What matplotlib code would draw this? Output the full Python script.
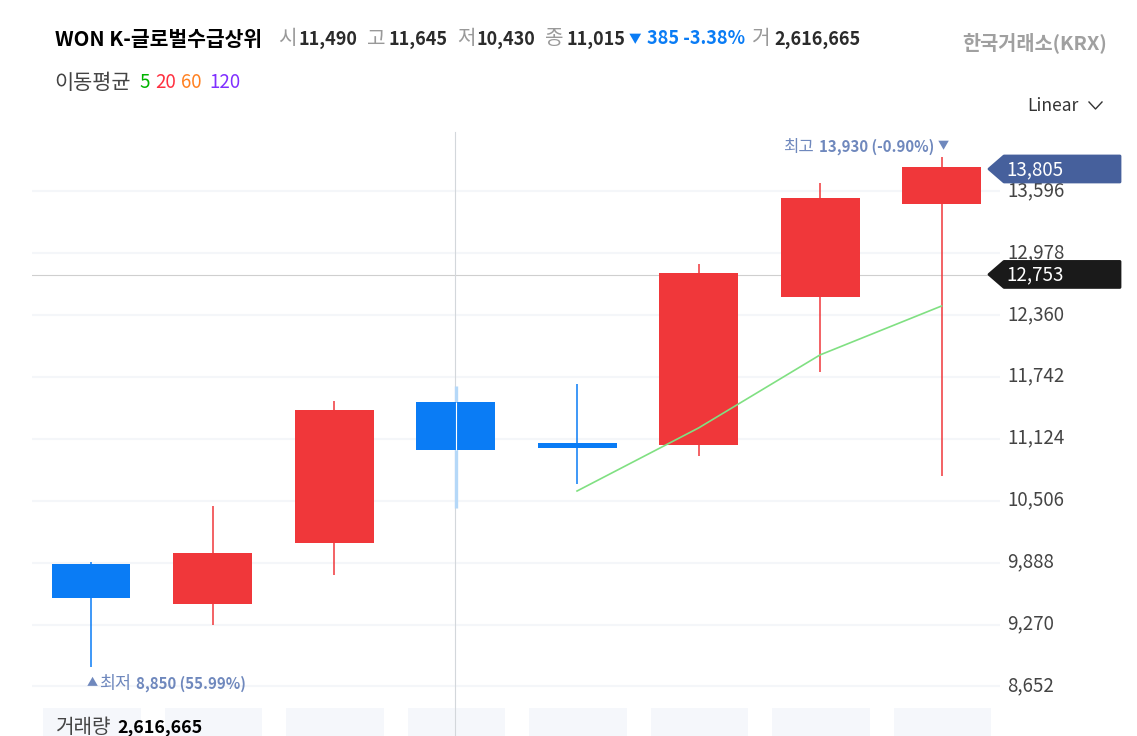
import matplotlib
matplotlib.use('Agg')
import matplotlib.pyplot as plt
from matplotlib.patches import Polygon
from matplotlib.lines import Line2D
from matplotlib.transforms import ScaledTranslation

plt.rcParams['font.family'] = ['Noto Sans CJK KR', 'DejaVu Sans']

# candles, oldest first
opens = [9874, 9475, 10084, 11490, 11081, 11061, 12538, 13465]
closes = [9535, 9984, 11410, 11015, 11031, 12777, 13525, 13835]
highs = [9894, 10453, 11500, 11645, 11670, 12867, 13675, 13930]
lows = [8850, 9266, 9764, 10430, 10672, 10951, 11789, 10752]
ma5_x = [4, 5, 6, 7]
ma5 = [10602, 11231, 11960, 12448]
volumes = [1, 1, 1, 1, 1, 1, 1, 1]
yticks = [8652, 9270, 9888, 10506, 11124, 11742, 12360, 12978, 13596]
hover = 3
last_price = 13805
cross_price = 12753

W, H = 1137, 736
RED = '#f0373a'
BLUE = '#0a7cf5'
NOTE = '#6f88bd'

fig = plt.figure(figsize=(W / 100, H / 100), dpi=100)


def box(x0, y0, x1, y1):
    return [x0 / W, 1 - y1 / H, (x1 - x0) / W, (y1 - y0) / H]


def fx(x):
    return x / W


def fy(y):
    return 1 - y / H


def txt(x, y, s, size=11, color='#333333', weight='normal', ha='left', **kw):
    fig.text(fx(x), fy(y), s, fontsize=size, color=color, weight=weight,
             ha=ha, va='center_baseline', **kw)


ax = fig.add_axes(box(32, 132, 1000, 700), zorder=1)
ax.set_xlim(-0.4856, 7.481)
ax.set_ylim(8517, 14184)
for s in ax.spines.values():
    s.set_visible(False)
ax.set_xticks([])
ax.yaxis.tick_right()
ax.set_yticks(yticks)
ax.set_yticklabels([f'{v:,}' for v in yticks], fontsize=13.5, color='#444444', va='center_baseline')
ax.tick_params(axis='y', length=0, pad=5)
up = ScaledTranslation(0, 3 / 100, fig.dpi_scale_trans)
for lab in ax.get_yticklabels():
    lab.set_transform(lab.get_transform() + up)
ax.grid(axis='y', color='#f4f6f9', lw=1.5)
ax.set_axisbelow(True)
ax.patch.set_alpha(0)

# volume panel, clipped by the bottom of the page
vax = fig.add_axes(box(33, 708, 1001, 736), zorder=0)
vax.set_xlim(ax.get_xlim())
vax.set_ylim(0, 1)
vax.axis('off')
vax.bar(range(len(volumes)), volumes, width=0.8, color='#f5f7fb')

# crosshair
ax.axhline(cross_price, color='#cfcfcf', lw=0.8, zorder=1)
vline = Line2D([fx(455), fx(455)], [fy(132), fy(736)], color='#d3d7db', lw=0.8,
               transform=fig.transFigure, zorder=1)
ax.add_artist(vline)
vline.set_clip_on(False)

for i in range(len(opens)):
    col = RED if closes[i] >= opens[i] else BLUE
    top, bot = max(opens[i], closes[i]), min(opens[i], closes[i])
    if i == hover:
        ax.vlines(i, lows[i], highs[i], color='#b5d8f8', lw=2.4, zorder=2)
    else:
        ax.vlines(i, lows[i], highs[i], color=col, lw=1.1, zorder=2)
    ax.bar(i, top - bot, bottom=bot, width=0.65, color=col, zorder=3)
    if i == hover:
        ax.vlines(i, bot, top, color='#ffffff', lw=0.8, zorder=4)

ax.plot(ma5_x, ma5, color='#80e082', lw=1.2, zorder=4)


def price_tag(price, color):
    y = H - ax.transData.transform((0, price))[1] - 1
    pts = [(989, y), (1004, y - 13), (1120, y - 13), (1120, y + 13), (1004, y + 13)]
    ax.add_patch(Polygon([(fx(a), fy(b)) for a, b in pts], closed=True, transform=fig.transFigure,
                         facecolor=color, edgecolor=color, lw=2, joinstyle='round',
                         clip_on=False, zorder=6))
    ax.text(fx(1006), fy(y - 2), f'{price:,}', fontsize=13.5, color='white', va='center_baseline',
            transform=fig.transFigure, zorder=7, clip_on=False)


price_tag(last_price, '#46609c')
price_tag(cross_price, '#1a1a1a')

# header line
txt(55, 37.5, 'WON K-글로벌수급상위', 14.7, '#000000', 'bold')
for x, s in [(278, '시'), (367, '고'), (457, '저'), (545, '종'), (752, '거')]:
    txt(x, 36.5, s, 14.5, '#999999')
for x, s in [(299, '11,490'), (389, '11,645'), (477, '10,430'), (567, '11,015'), (774, '2,616,665')]:
    txt(x, 37, s, 13, '#2b2b2b', 'bold')
txt(629, 38, '▼', 9, BLUE)
txt(647, 37, '385 -3.38%', 13, BLUE, 'bold')
txt(962, 41, '한국거래소(KRX)', 14.2, '#a0a0a0', 'bold')

# moving average legend
txt(54.5, 80.5, '이동평균', 15, '#444444')
for x, s, c in [(139, '5', '#00b400'), (155, '20', '#ff3040'), (181, '60', '#ff8020'), (209, '120', '#8030ff')]:
    txt(x, 80.5, s, 13.5, c)

txt(1027, 104, 'Linear', 12.6, '#333333')
fig.add_artist(Line2D([fx(1089), fx(1095.5), fx(1102)], [fy(102), fy(109), fy(102)], color='#333333', lw=1))

# high / low notes
txt(783, 145.5, '최고', 12, NOTE)
txt(819, 145.5, '13,930 (-0.90%)', 10.8, NOTE, 'bold')
txt(938, 145, '▼', 8, NOTE)
txt(87, 682, '▲', 8, NOTE)
txt(99.5, 681.5, '최저', 12.5, NOTE)
txt(136, 682, '8,850 (55.99%)', 10.8, NOTE, 'bold')

txt(56, 725, '거래량', 14.5, '#444444')
txt(117, 725, '2,616,665', 12.9, '#000000', 'bold')

fig.savefig('out.png', dpi=100)
